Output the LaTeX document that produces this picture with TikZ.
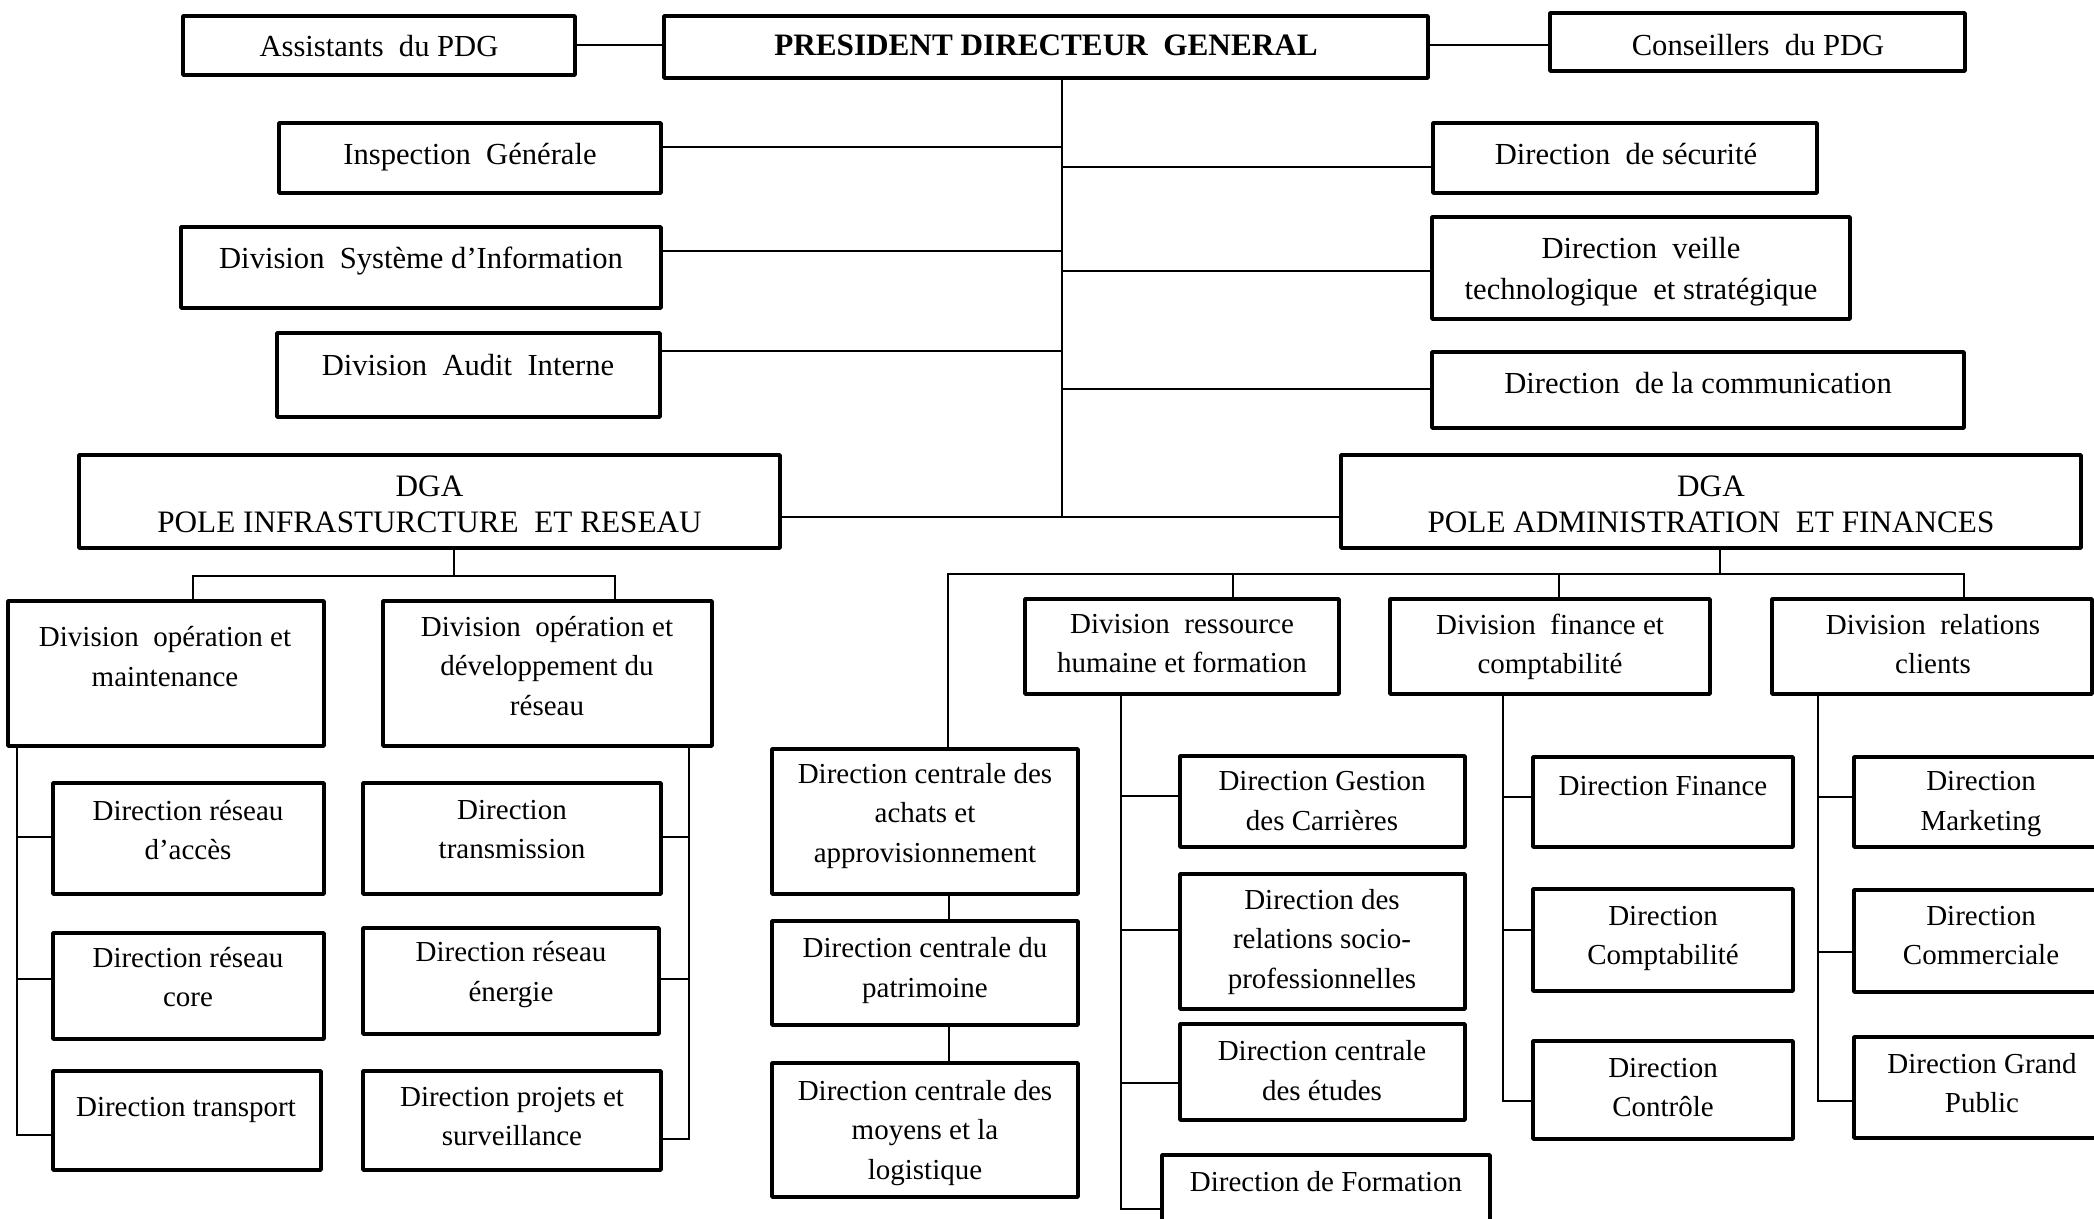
\documentclass[tikz,border=0pt]{standalone}
\usepackage{fontspec}
\setmainfont{Liberation Serif}
% box: name, left, top, right, bottom (outer edges, in px)
\newcommand\bx[5]{\node[box, minimum width={(#4-#2-4.4)*0.5pt}, minimum height={(#5-#3-4.4)*0.5pt}] (#1) at ({(#2+#4)/2},{(#3+#5)/2}) {};}
% label: [style], name, centre x, baseline of first line, text
\newcommand\tx[5][]{\node[txt,#1] (#2) at (#3,{#4-20}) {#5};}
\begin{document}
\begin{tikzpicture}[x=0.5pt,y=-0.5pt,
  box/.style={draw=black, line width=2.2pt, line join=round, fill=white, inner sep=0pt},
  conn/.style={draw=black, line width=1pt},
  txt/.style={inner sep=0pt, align=center, anchor=north, font=\fontsize{14.5}{19.7}\selectfont},
  big/.style={font=\fontsize{15.3}{20.5}\selectfont},
  dga/.style={font=\fontsize{15.6}{17.9}\selectfont}
]
\useasboundingbox (0,0) rectangle (2094,1219);
\clip (0,0) rectangle (2094,1219);

% ---- top level
\bx{asst}{181}{14}{577}{77}
\bx{pdg}{662}{14}{1430}{80}
\bx{cons}{1548}{11}{1967}{73}
\bx{insp}{277}{121}{663}{195}
\bx{dsi}{179}{225}{663}{310}
\bx{dai}{275}{331}{662}{419}
\bx{dgal}{77}{453}{782}{550}
\bx{dsec}{1431}{121}{1819}{195}
\bx{dvt}{1430}{215}{1852}{321}
\bx{dcomm}{1430}{350}{1966}{430}
\bx{dgar}{1339}{453}{2083}{550}

\tx[big]{t-asst}{379}{54.6}{Assistants\ \ du PDG}
\tx[font=\fontsize{15.6}{18}\selectfont\bfseries]{t-pdg}{1046}{54.6}{PRESIDENT DIRECTEUR\ \ GENERAL}
\tx[big]{t-cons}{1758}{53.6}{Conseillers\ \ du PDG}
\tx[big]{t-insp}{470}{162.5}{Inspection\ \ Générale}
\tx[big]{t-dsi}{421}{267}{Division\ \ Système\ d’Information}
\tx[big]{t-dai}{468}{373.6}{Division\ \ Audit\ \ Interne}
\tx[dga]{t-dgal}{429.5}{495.7}{DGA\\POLE INFRASTURCTURE\ \ ET RESEAU}
\tx[big]{t-dsec}{1626}{162.5}{Direction\ \ de sécurité}
\tx[big]{t-dvt}{1641}{257}{Direction\ \ veille\\technologique\ \ et stratégique}
\tx[big]{t-dcomm}{1698}{391.8}{Direction\ \ de la communication}
\tx[dga]{t-dgar}{1711}{495.7}{DGA\\POLE ADMINISTRATION\ \ ET FINANCES}

% ---- pole infrastructure et reseau
\bx{dom}{6}{599}{326}{748}
\bx{dod}{381}{599}{714}{748}
\bx{dra}{51}{781}{326}{896}
\bx{drc}{51}{931}{326}{1041}
\bx{dtr}{51}{1069}{323}{1172}
\bx{dtm}{361}{781}{663}{896}
\bx{dre}{361}{926}{661}{1036}
\bx{dps}{361}{1069}{663}{1172}

\tx{t-dom}{165}{646.2}{Division\ \ opération et\\maintenance}
\tx{t-dod}{547}{635.7}{Division\ \ opération et\\développement du\\réseau}
\tx{t-dra}{188}{819.8}{Direction réseau\\d’accès}
\tx{t-drc}{188}{966.9}{Direction réseau\\core}
\tx{t-dtr}{186}{1117}{Direction transport}
\tx{t-dtm}{512}{819.8}{Direction\\transmission}
\tx{t-dre}{511}{961.4}{Direction réseau\\énergie}
\tx{t-dps}{512}{1106.4}{Direction projets et\\surveillance}

% ---- pole administration et finances
\bx{drh}{1023}{597}{1341}{696}
\bx{dfc}{1388}{597}{1712}{696}
\bx{drcl}{1770}{597}{2094}{696}
\bx{dca}{770}{747}{1080}{896}
\bx{dcp}{770}{919}{1080}{1027}
\bx{dcm}{770}{1061}{1080}{1199}
\bx{dgc}{1178}{754}{1467}{849}
\bx{drs}{1178}{872}{1467}{1011}
\bx{dce}{1178}{1022}{1467}{1122}
\bx{dfo}{1160}{1153}{1492}{1250}
\bx{dfi}{1531}{755}{1795}{849}
\bx{dco}{1531}{887}{1795}{993}
\bx{dct}{1531}{1039}{1795}{1141}
\bx{dma}{1852}{755}{2115}{849}
\bx{dcom}{1852}{888}{2115}{994}
\bx{dgp}{1852}{1035}{2115}{1140}

\tx{t-drh}{1182}{633.6}{Division\ \ ressource\\humaine et formation}
\tx{t-dfc}{1550}{633.6}{Division\ \ finance et\\comptabilité}
\tx{t-drcl}{1933}{633.6}{Division\ \ relations\\clients}
\tx{t-dca}{925}{782.8}{Direction centrale des\\achats et\\approvisionnement}
\tx{t-dcp}{925}{957.2}{Direction centrale du\\patrimoine}
\tx{t-dcm}{925}{1100}{Direction centrale des\\moyens et la\\logistique}
\tx{t-dgc}{1322}{791.2}{Direction Gestion\\des Carrières}
\tx{t-drs}{1322}{908.9}{Direction des\\relations socio-\\professionnelles}
\tx{t-dce}{1322}{1060.2}{Direction centrale\\des études}
\tx{t-dfo}{1326}{1190.5}{Direction de Formation}
\tx{t-dfi}{1663}{795.4}{Direction Finance}
\tx{t-dco}{1663}{925.7}{Direction\\Comptabilité}
\tx{t-dct}{1663}{1077.9}{Direction\\Contrôle}
\tx{t-dma}{1981}{791.2}{Direction\\Marketing}
\tx{t-dcom}{1981}{925.7}{Direction\\Commerciale}
\tx{t-dgp}{1982}{1072.8}{Direction Grand\\Public}

% ---- connectors: top level
\coordinate (tk) at (1062,517);
\draw[conn] (asst.east |- 0,44.6) -- (pdg.west |- 0,44.6);
\draw[conn] (pdg.east |- 0,44.6) -- (cons.west |- 0,44.6);
\draw[conn] (pdg.south -| tk) -- (tk);
\draw[conn] (insp.east |- 0,147) -- (tk |- 0,147);
\draw[conn] (dsi.east |- 0,251) -- (tk |- 0,251);
\draw[conn] (dai.east |- 0,350.7) -- (tk |- 0,350.7);
\draw[conn] (tk |- 0,167.5) -- (dsec.west |- 0,167.5);
\draw[conn] (tk |- 0,271) -- (dvt.west |- 0,271);
\draw[conn] (tk |- 0,388.6) -- (dcomm.west |- 0,388.6);
\draw[conn] (dgal.east |- tk) -- (dgar.west |- tk);

% ---- connectors: infrastructure
\coordinate (bl) at (453.7,575.6);
\coordinate (ls) at (16.5,0);
\coordinate (rs) at (689.3,0);
\draw[conn] (dgal.south -| bl) -- (bl);
\draw[conn] (dom.north -| 193,0) |- (bl) -| (dod.north -| 614.6,0);
\draw[conn] (dom.south -| ls) |- (dtr.west |- 0,1135);
\draw[conn] (ls |- 0,837.4) -- (dra.west |- 0,837.4);
\draw[conn] (ls |- 0,978.7) -- (drc.west |- 0,978.7);
\draw[conn] (dod.south -| rs) |- (dps.east |- 0,1139);
\draw[conn] (rs |- 0,837.4) -- (dtm.east |- 0,837.4);
\draw[conn] (rs |- 0,978.7) -- (dre.east |- 0,978.7);

% ---- connectors: administration
\coordinate (br) at (1720,573.5);
\coordinate (hs) at (1120.5,0);
\coordinate (fs) at (1503.4,0);
\coordinate (cs) at (1818.3,0);
\draw[conn] (dgar.south -| br) -- (br);
\draw[conn] (dca.north -| 947.5,0) |- (br) -| (drcl.north -| 1964.3,0);
\draw[conn] (drh.north -| 1233,0) -- (1233,573.5);
\draw[conn] (dfc.north -| 1558.5,0) -- (1558.5,573.5);
\draw[conn] (dca.south -| 949,0) -- (dcp.north -| 949,0);
\draw[conn] (dcp.south -| 949,0) -- (dcm.north -| 949,0);
\draw[conn] (drh.south -| hs) |- (dfo.west |- 0,1209.4);
\draw[conn] (hs |- 0,796.2) -- (dgc.west |- 0,796.2);
\draw[conn] (hs |- 0,929.9) -- (drs.west |- 0,929.9);
\draw[conn] (hs |- 0,1083.3) -- (dce.west |- 0,1083.3);
\draw[conn] (dfc.south -| fs) |- (dct.west |- 0,1101);
\draw[conn] (fs |- 0,796.6) -- (dfi.west |- 0,796.6);
\draw[conn] (fs |- 0,930) -- (dco.west |- 0,930);
\draw[conn] (drcl.south -| cs) |- (dgp.west |- 0,1101);
\draw[conn] (cs |- 0,796.6) -- (dma.west |- 0,796.6);
\draw[conn] (cs |- 0,951.8) -- (dcom.west |- 0,951.8);
\end{tikzpicture}
\end{document}
